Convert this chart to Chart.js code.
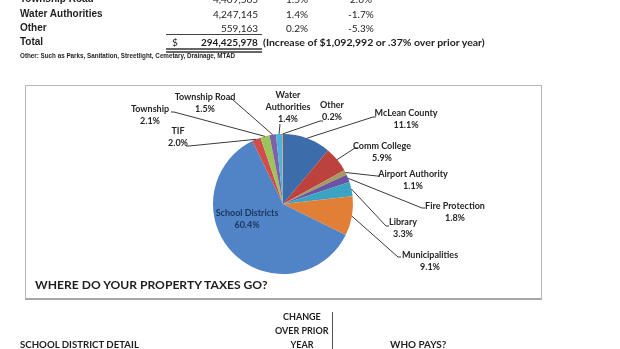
<!DOCTYPE html>
<html>
<head>
<meta charset="utf-8">
<script src="https://cdn.jsdelivr.net/npm/chart.js@4"></script>
<style>
  body { margin: 0; width: 620px; height: 349px; overflow: hidden; background: #fff; position: relative; }
  #box { position: absolute; left: 25px; top: 85px; width: 515px; height: 212px;
         border: 1px solid #b8b8b8; border-bottom: 2px solid #a8a8a8; }
  #pie { position: absolute; left: 0; top: 0; }
  .rule { position: absolute; background: #555; }
</style>
</head>
<body>
<div id="box"></div>
<canvas id="pie" width="620" height="349"></canvas>

<script>
// --- data ---------------------------------------------------------------
const categories = ['McLean County', 'Comm College', 'Airport Authority', 'Fire Protection',
  'Library', 'Municipalities', 'School Districts', 'TIF', 'Township', 'Township Road',
  'Water Authorities', 'Other'];
const shares = [11.1, 5.9, 1.1, 1.8, 3.3, 9.1, 60.4, 2.0, 2.1, 1.5, 1.4, 0.2];

// rows of the summary table above the chart
const tableNames   = ['Township Road', 'Water Authorities', 'Other'];
const tableAmounts = ['4,409,565', '4,247,145', '559,163'];
const tablePct     = ['1.5%', '1.4%', '0.2%'];
const tableChange  = ['2.6%', '-1.7%', '-5.3%'];
const totalAmount  = '294,425,978';

// --- styles -------------------------------------------------------------
const sliceColors = ['#3d6cab', '#bc423e', '#a69a5e', '#6b55a3', '#3ca3c2', '#e27f36',
  '#5184c6', '#d04e49', '#9cc45b', '#7f60a9', '#4fb2d8', '#f0903f'];

// where each slice label sits: text centre, first line y, end of leader line, tick direction
const labelLayout = [
  { cx: 406, y: 113, ax: 373, ay: 117, tick: 3 },
  { cx: 382, y: 146, ax: 355, ay: 148, tick: 3 },
  { cx: 413, y: 174, ax: 377, ay: 176, tick: 3 },
  { cx: 455, y: 206, ax: 422, ay: 208, tick: 3 },
  { cx: 403, y: 222, ax: 386, ay: 226, tick: 3 },
  { cx: 430, y: 255, ax: 398, ay: 257, tick: 3 },
  { cx: 247, y: 213, inside: true },
  { cx: 178, y: 131, ax: 189, ay: 146, tick: -3 },
  { cx: 150, y: 109, ax: 174, ay: 112, tick: -3 },
  { cx: 205, y: 97,  ax: 232, ay: 99,  tick: -3 },
  { cx: 288, y: 95,  ax: 280, ay: 124, tick: 0, wrap: true },
  { cx: 332, y: 105, ax: 320, ay: 121, tick: 3 }
];

// --- plain text of the page ---------------------------------------------
function put(txt, x, y, o) {
  const d = document.createElement('div');
  d.textContent = txt;
  d.style.cssText = 'position:absolute;white-space:nowrap;font:' + o.font +
    ';line-height:14px;height:14px;top:' + (y - 7) + 'px;color:' + (o.color || '#1e1e1e');
  document.body.appendChild(d);
  const w = d.offsetWidth;
  const sx = o.width ? o.width / w : 1;
  const realW = w * sx;
  const left = o.align === 'right' ? x - realW : o.align === 'center' ? x - realW / 2 : x;
  d.style.left = left + 'px';
  if (sx !== 1) {
    d.style.transformOrigin = '0 50%';
    d.style.transform = 'scaleX(' + sx + ')';
  }
}
function rule(x, y, w, h, color) {
  const r = document.createElement('div');
  r.className = 'rule';
  r.style.cssText += 'left:' + x + 'px;top:' + y + 'px;width:' + w + 'px;height:' + h + 'px;' +
    (color ? 'background:' + color : '');
  document.body.appendChild(r);
}

const rowY = [-1, 14, 28];
const nameFont = 'bold 10px "Liberation Sans"';
const numFont = '10px Lato';
tableNames.forEach(function (n, i) {
  put(n, 20, rowY[i], { font: nameFont });
  put(tableAmounts[i], 258, rowY[i], { font: numFont, align: 'right' });
  put(tablePct[i], 297, rowY[i], { font: numFont, align: 'center' });
  put(tableChange[i], 361, rowY[i], { font: numFont, align: 'center' });
});
rule(166, 34, 96, 1, '#444');
put('Total', 20, 42, { font: nameFont });
put('$', 172, 42, { font: numFont });
put(totalAmount, 258, 42, { font: 'bold 10px Lato', align: 'right' });
put('(Increase of $1,092,992 or .37% over prior year)', 263, 42,
  { font: 'bold 10px Lato', width: 222 });
rule(166, 48, 96, 1.5, '#666');
rule(166, 51, 96, 1.5, '#666');
put('Other: Such as Parks, Sanitation, Streetlight, Cemetary, Drainage, MTAD', 20, 56,
  { font: 'bold 8px "Liberation Sans"', width: 215 });

put('WHERE DO YOUR PROPERTY TAXES GO?', 35, 285, { font: 'bold 12px Lato', width: 233 });

put('CHANGE', 302, 317, { font: 'bold 9px Lato', align: 'center' });
put('OVER PRIOR', 302, 331, { font: 'bold 9px Lato', align: 'center' });
put('YEAR', 302, 345, { font: 'bold 9px Lato', align: 'center' });
put('SCHOOL DISTRICT DETAIL', 20, 345, { font: 'bold 9px Lato', width: 119 });
put('WHO PAYS?', 390, 345, { font: 'bold 9px Lato', width: 56 });
rule(332, 312, 1, 40, '#555');

// --- leader lines and slice labels --------------------------------------
const sliceLabels = {
  id: 'sliceLabels',
  afterDatasetsDraw(chart) {
    const ctx = chart.ctx;
    const arcs = chart.getDatasetMeta(0).data;
    ctx.save();
    ctx.font = 'bold 9px Lato';
    ctx.textAlign = 'center';
    ctx.textBaseline = 'middle';
    arcs.forEach(function (arc, i) {
      const L = labelLayout[i];
      const p = arc.getProps(['x', 'y', 'startAngle', 'endAngle', 'outerRadius'], true);
      const pct = shares[i].toFixed(1) + '%';
      let lines = L.wrap ? categories[i].split(' ') : [categories[i]];
      lines = lines.concat([pct]);

      if (!L.inside) {
        const mid = (p.startAngle + p.endAngle) / 2;
        const sx = p.x + Math.cos(mid) * p.outerRadius;
        const sy = p.y + Math.sin(mid) * p.outerRadius;
        ctx.strokeStyle = '#3a3a3a';
        ctx.lineWidth = 1;
        ctx.beginPath();
        ctx.moveTo(sx, sy);
        ctx.lineTo(L.ax, L.ay);
        if (L.tick) ctx.lineTo(L.ax + L.tick, L.ay);
        ctx.stroke();
      }
      ctx.fillStyle = L.inside ? '#1c355e' : '#262626';
      lines.forEach(function (t, k) {
        ctx.fillText(t, L.cx, L.y + k * 12);
      });
    });
    ctx.restore();
  }
};

new Chart(document.getElementById('pie'), {
  type: 'pie',
  data: {
    labels: categories,
    datasets: [{
      data: shares,
      backgroundColor: sliceColors,
      borderWidth: 0
    }]
  },
  options: {
    responsive: false,
    animation: false,
    // square chart area 140x140 so the pie is centred at (283, 204)
    layout: { padding: { left: 213, right: 267, top: 134, bottom: 75 } },
    plugins: {
      legend: { display: false },
      tooltip: { enabled: false }
    }
  },
  plugins: [sliceLabels]
});
</script>
</body>
</html>
